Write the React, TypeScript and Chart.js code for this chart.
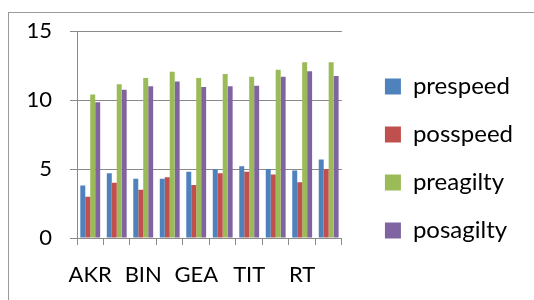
import { useEffect, useRef } from "react";
import { Chart, registerables } from "chart.js";
Chart.register(...registerables);

const categories = ["AKR", "", "BIN", "", "GEA", "", "TIT", "", "RT", ""];
const prespeed = [3.8, 4.7, 4.3, 4.3, 4.8, 5.0, 5.2, 5.0, 4.9, 5.7];
const posspeed = [3.0, 4.0, 3.5, 4.4, 3.85, 4.7, 4.8, 4.6, 4.05, 5.0];
const preagilty = [10.4, 11.15, 11.6, 12.05, 11.6, 11.9, 11.7, 12.2, 12.75, 12.75];
const posagilty = [9.85, 10.75, 11.0, 11.35, 10.95, 11.0, 11.05, 11.7, 12.1, 11.75];
const seriesNames = ["prespeed", "posspeed", "preagilty", "posagilty"];
const seriesColors = ["#4F81BD", "#C0504D", "#9BBB59", "#8064A2"];
const yMin = 0;
const yMax = 15;
const yStep = 5;

export default function App() {
  const ref = useRef<HTMLCanvasElement | null>(null);
  useEffect(() => {
    if (!ref.current) return;
    const gridColor = "#8a8a8a";
    const font = { family: "Lato", size: 22 };
    const legendFont = { family: "Lato", size: 24 };
    const values = [prespeed, posspeed, preagilty, posagilty];
    const chart = new Chart(ref.current, {
      type: "bar",
      data: {
        labels: categories,
        datasets: values.map((v, i) => ({
          label: seriesNames[i],
          data: v,
          backgroundColor: seriesColors[i],
          borderWidth: 0,
          barPercentage: 1,
          categoryPercentage: 0.75,
          yAxisID: "y",
        })),
      },
      options: {
        responsive: false,
        animation: false,
        layout: { padding: { top: 29, left: 20, right: 11, bottom: 12 } },
        plugins: {
          tooltip: { enabled: false },
          legend: {
            position: "right",
            maxWidth: 260,
            labels: {
              boxWidth: 16,
              boxHeight: 16,
              padding: 24,
              color: "#000",
              font: legendFont,
            },
          },
        },
        scales: {
          x: {
            grid: {
              drawOnChartArea: false,
              drawTicks: true,
              tickLength: 7,
              color: gridColor,
              offset: true,
            },
            border: { color: gridColor, width: 1 },
            ticks: {
              color: "#000",
              font,
              padding: 17,
              autoSkip: false,
              maxRotation: 0,
            },
            afterFit: (s: any) => {
              s.height = 50;
            },
          },
          y: {
            min: yMin,
            max: yMax,
            ticks: { stepSize: yStep, color: "#000", font, padding: 18 },
            grid: { color: gridColor, tickLength: 7, drawTicks: true },
            border: { color: gridColor, width: 1 },
            afterFit: (s: any) => {
              s.width = 57;
            },
          },
          r: {
            type: "linear",
            position: "right",
            display: true,
            grid: { display: false },
            border: { display: false },
            ticks: { display: false },
            afterFit: (s: any) => {
              s.width = 19;
            },
          },
        },
      },
    } as any);
    return () => chart.destroy();
  }, []);
  return (
    <div style={{ position: "absolute", left: 0, top: 0, width: 534, height: 300, overflow: "hidden" }}>
      <div
        style={{
          position: "absolute",
          left: 8,
          top: 12,
          width: 700,
          height: 500,
          borderLeft: "1px solid #9a9a9a",
          borderTop: "1px solid #9a9a9a",
        }}
      />
      <canvas ref={ref} width={534} height={300} style={{ position: "absolute", left: 0, top: 0 }} />
    </div>
  );
}
